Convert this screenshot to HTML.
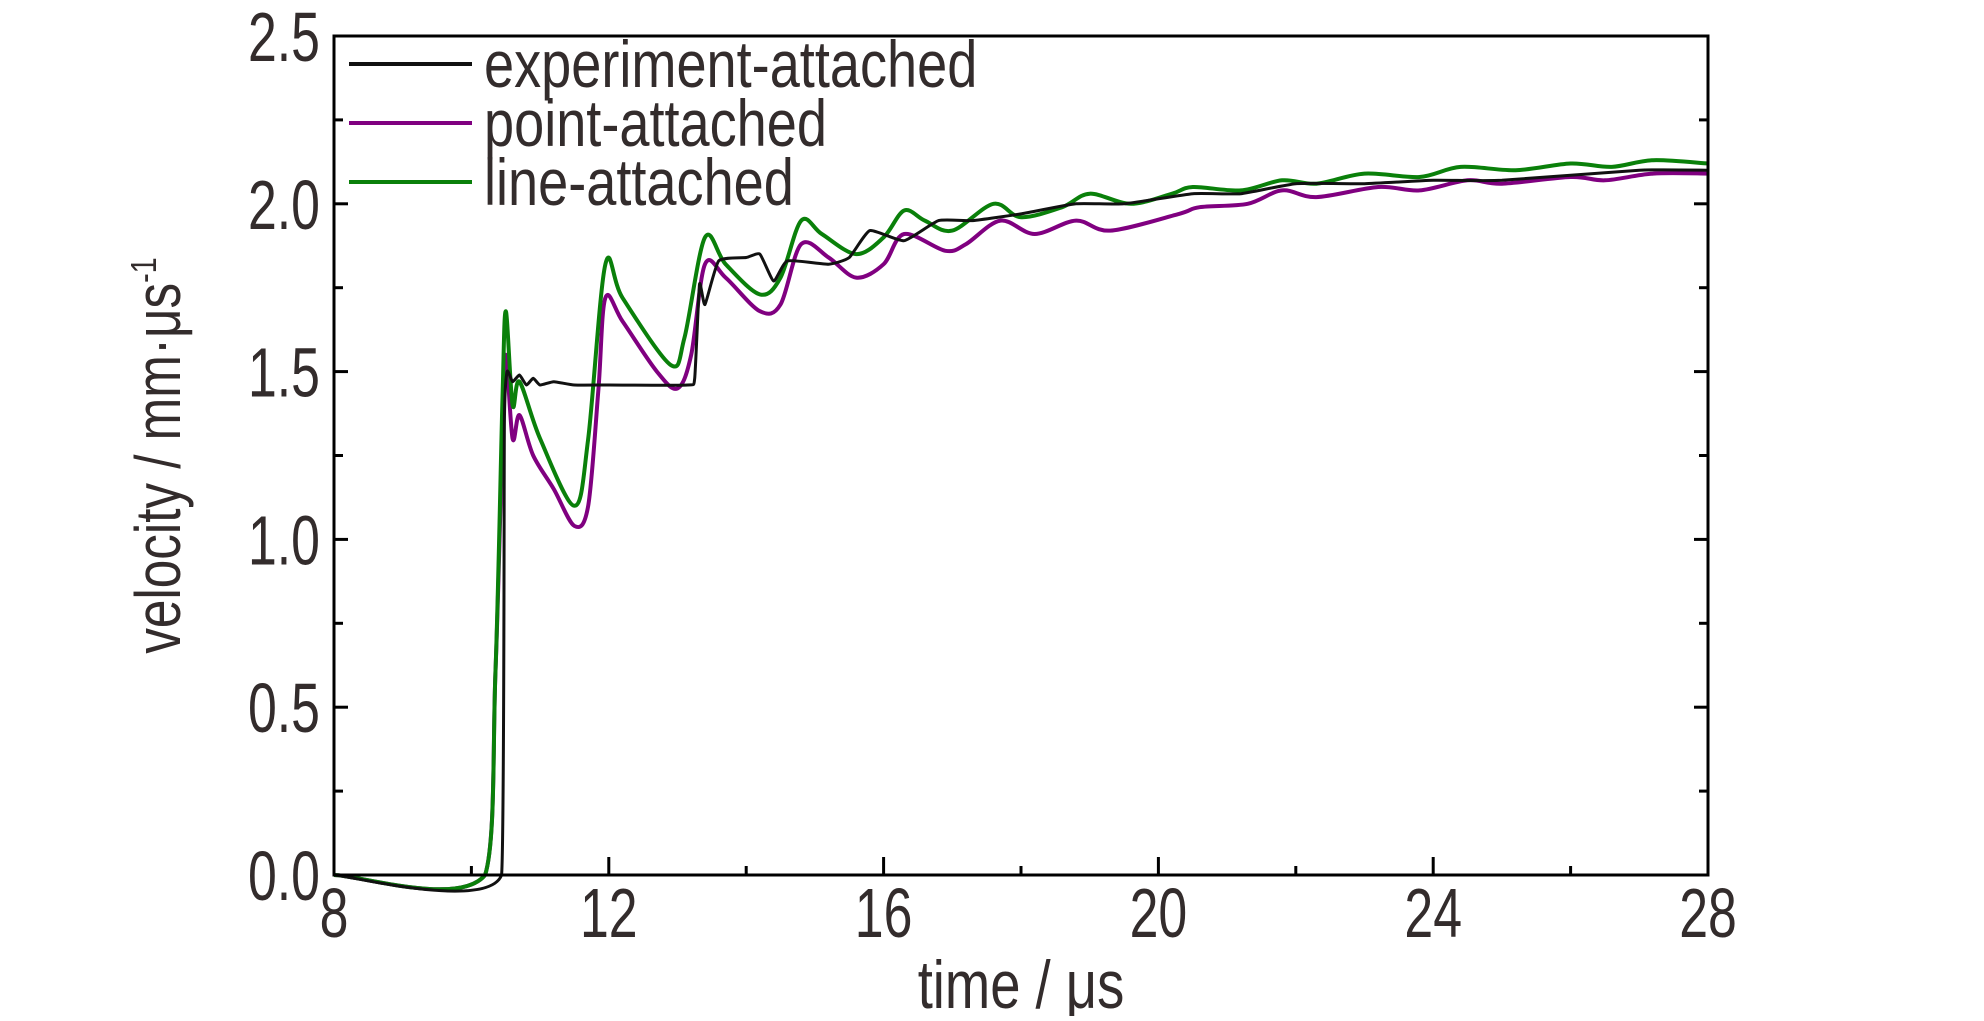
<!DOCTYPE html>
<html><head><meta charset="utf-8"><style>
body{margin:0;background:#fff;width:1984px;height:1016px;overflow:hidden}
text{font-family:"Liberation Sans",sans-serif;fill:#332c2c}
</style></head><body>
<svg id="chart" width="1984" height="1016" xmlns="http://www.w3.org/2000/svg"></svg>
<script>
const xTicks=[8,12,16,20,24,28];
const yTicks=[0.0,0.5,1.0,1.5,2.0,2.5];
const yTickLabels=["0.0","0.5","1.0","1.5","2.0","2.5"];
const expT=[8,10.44,10.48,10.52,10.6,10.7,10.8,10.9,11.0,11.2,11.5,12,13.15,13.25,13.32,13.4,13.6,14.0,14.2,14.4,14.6,15.2,15.5,15.8,16.3,16.8,17.3,18,18.8,19.5,20.5,21.2,22,23,24,25,27,28];
const expV=[0,0,1.35,1.5,1.47,1.49,1.46,1.48,1.46,1.47,1.46,1.46,1.46,1.48,1.76,1.70,1.83,1.84,1.85,1.77,1.83,1.82,1.84,1.92,1.89,1.95,1.95,1.97,2.0,2.0,2.03,2.03,2.06,2.06,2.07,2.07,2.1,2.1];
const ptT=[8,10.2,10.35,10.45,10.5,10.6,10.7,10.9,11.2,11.5,11.7,11.85,11.95,12.2,12.7,13.0,13.2,13.4,13.7,14.2,14.5,14.8,15.2,15.6,16.0,16.3,16.9,17.2,17.7,18.2,18.8,19.3,20.3,20.6,21.3,21.8,22.3,23.2,23.8,24.5,25,26,26.5,27.2,28];
const ptV=[0,0,0.6,1.3,1.55,1.3,1.37,1.25,1.15,1.04,1.1,1.45,1.72,1.65,1.5,1.45,1.55,1.82,1.78,1.68,1.7,1.88,1.84,1.78,1.82,1.91,1.86,1.88,1.95,1.91,1.95,1.92,1.97,1.99,2.0,2.04,2.02,2.05,2.04,2.07,2.06,2.08,2.07,2.09,2.09];
const lnT=[8,10.2,10.35,10.45,10.5,10.6,10.7,11.0,11.5,11.7,11.95,12.2,12.9,13.1,13.4,13.7,14.2,14.5,14.8,15.1,15.6,16.0,16.3,16.6,17.0,17.6,18.0,18.6,19.0,19.6,20.2,20.5,21.2,21.8,22.3,23,23.8,24.4,25.2,26.0,26.6,27.2,28];
const lnV=[0,0,0.6,1.4,1.68,1.4,1.47,1.3,1.1,1.3,1.82,1.72,1.52,1.6,1.9,1.82,1.73,1.78,1.95,1.91,1.85,1.9,1.98,1.95,1.92,2.0,1.96,1.99,2.03,2.0,2.03,2.05,2.04,2.07,2.06,2.09,2.08,2.11,2.1,2.12,2.11,2.13,2.12];
const X0=334,X1=1708,Y0=875,Y1=36;
const sx=t=>X0+(t-8)/20*(X1-X0);
const sy=v=>Y0-v/2.5*(Y0-Y1);
const svg=document.getElementById('chart');
const NS="http://www.w3.org/2000/svg";
function mk(tag,attrs,parent){const e=document.createElementNS(NS,tag);for(const k in attrs)e.setAttribute(k,attrs[k]);(parent||svg).appendChild(e);return e;}
function smoothPath(T,V,k){
 const P=T.map((t,i)=>[sx(t),sy(V[i])]);
 let d='M'+P[0][0].toFixed(1)+' '+P[0][1].toFixed(1);
 for(let i=0;i<P.length-1;i++){
  const p0=P[Math.max(0,i-1)],p1=P[i],p2=P[i+1],p3=P[Math.min(P.length-1,i+2)];
  const c1=[p1[0]+(p2[0]-p0[0])*k,p1[1]+(p2[1]-p0[1])*k];
  const c2=[p2[0]-(p3[0]-p1[0])*k,p2[1]-(p3[1]-p1[1])*k];
  c1[0]=Math.min(Math.max(c1[0],p1[0]),p2[0]);c2[0]=Math.min(Math.max(c2[0],p1[0]),p2[0]);
  d+=' C'+c1[0].toFixed(1)+' '+c1[1].toFixed(1)+' '+c2[0].toFixed(1)+' '+c2[1].toFixed(1)+' '+p2[0].toFixed(1)+' '+p2[1].toFixed(1);
 }
 return d;
}
function series(T,V,color,name,w,k){
 const p=mk('path',{d:smoothPath(T,V,k),fill:'none',stroke:color,'stroke-width':w,'stroke-linejoin':'round'});
 
 
}
series(ptT,ptV,'#800080','point-attached-line',4,0.16);
series(lnT,lnV,'#0a800a','line-attached-line',4,0.16);
series(expT,expV,'#111','experiment-attached-line',3,0.08);
const fr=mk('rect',{x:X0,y:Y1,width:X1-X0,height:Y0-Y1,fill:'none',stroke:'#000','stroke-width':3});


for(let v=0;v<=2.5001;v+=0.25){
 const major=Math.abs(v*2-Math.round(v*2))<1e-6;const L=major?14:9;
 mk('line',{x1:X0,x2:X0+L,y1:sy(v),y2:sy(v),stroke:'#000','stroke-width':3});
 mk('line',{x1:X1,x2:X1-L,y1:sy(v),y2:sy(v),stroke:'#000','stroke-width':3});
}
yTicks.forEach((v,i)=>{
 const t=mk('text',{x:0,y:0,'font-size':70,'text-anchor':'end',transform:`translate(${X0-14},${sy(v)+25}) scale(0.74,1)`});
 t.textContent=yTickLabels[i];
 
 
});
for(let t=8;t<=28;t+=2){
 const major=(t%4===0);const L=major?18:9;
 mk('line',{x1:sx(t),x2:sx(t),y1:Y0,y2:Y0-L,stroke:'#000','stroke-width':3});
}
xTicks.forEach(v=>{
 const t=mk('text',{x:0,y:0,'font-size':70,'text-anchor':'middle',transform:`translate(${sx(v)},${Y0+62}) scale(0.74,1)`});
 t.textContent=String(v);
 
 
});
const xt=mk('text',{x:0,y:0,'font-size':68,'text-anchor':'middle',transform:`translate(${sx(18)},${1008}) scale(0.8,1)`});
xt.textContent='time / μs';


const yt=mk('text',{x:0,y:0,'font-size':64,'text-anchor':'middle',transform:`translate(180,${sy(1.25)}) rotate(-90) scale(0.8,1)`});
yt.innerHTML='velocity / mm·μs<tspan dy="-24" font-size="36">-1</tspan>';


const leg=[['experiment-attached','#111'],['point-attached','#800080'],['line-attached','#0a800a']];
leg.forEach((l,i)=>{
 const y=64+i*59;
 const g=mk('g',{});
 
 
 mk('line',{x1:349,x2:472,y1:y,y2:y,stroke:l[1],'stroke-width':4},g);
 const t=mk('text',{x:0,y:0,'font-size':66,transform:`translate(484,${y+23}) scale(0.82,1)`},g);
 t.textContent=l[0];
});
</script>
</body></html>
